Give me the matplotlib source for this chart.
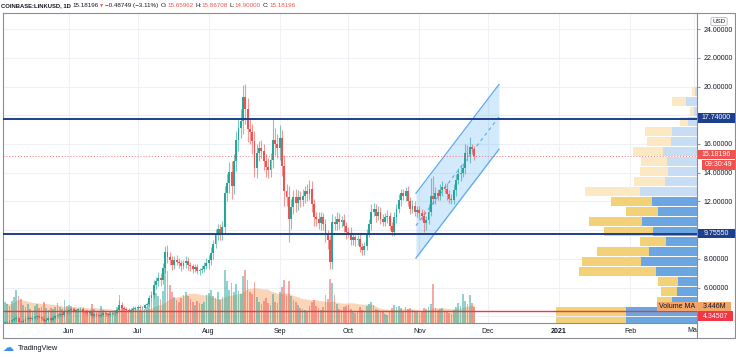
import numpy as np
import pandas as pd
import matplotlib
matplotlib.use("Agg")
import matplotlib.pyplot as plt
import matplotlib.dates as mdates
from matplotlib.patches import Rectangle
from matplotlib.lines import Line2D
from matplotlib.transforms import Bbox, TransformedBbox

plt.rcParams['font.family'] = ['Liberation Sans', 'DejaVu Sans']

# daily closes, May 4 2020 .. Nov 25 2020
may_close = [3.60, 3.62, 3.66, 3.74, 3.80, 3.86, 3.62, 3.60, 3.70, 3.84, 3.92, 3.82, 3.90, 3.95,
             4.00, 3.96, 3.84, 3.68, 3.78, 3.86, 3.74, 3.92, 4.00, 4.12, 4.16, 4.08, 4.38, 4.30]
jun_close = [4.42, 4.50, 4.38, 4.44, 4.50, 4.55, 4.36, 4.30, 4.22, 4.34, 4.06, 4.15, 4.10, 4.04, 4.12,
             4.22, 4.16, 4.10, 4.18, 4.22, 4.26, 4.42, 4.78, 4.62, 4.55, 4.48, 4.40, 4.46, 4.55, 4.60]
jul_close = [4.68, 4.56, 4.62, 4.76, 4.86, 5.28, 5.50, 6.20, 6.45, 6.70, 6.55, 7.40, 8.45, 8.15, 7.95, 7.60,
             7.90, 7.80, 7.70, 7.52, 7.70, 7.88, 7.60, 7.48, 7.30, 7.42, 7.18, 7.25, 7.32, 7.50, 7.72]
aug_close = [7.95, 8.40, 9.05, 9.70, 10.05, 9.80, 10.20, 12.60, 13.30, 14.05, 13.10, 14.80, 16.30, 17.10, 17.60,
             19.30, 18.40, 17.05, 16.80, 16.20, 14.30, 15.40, 15.70, 15.50, 14.80, 14.40, 14.20, 14.90, 16.30, 16.00, 15.70]
sep_close = [16.40, 14.50, 12.70, 12.30, 10.80, 11.60, 12.30, 11.90, 12.30, 12.10, 12.40, 12.70, 12.50, 12.90, 11.80,
             10.90, 10.80, 10.50, 10.90, 10.40, 9.70, 9.30, 7.80, 10.60, 10.40, 10.80, 10.60, 10.70, 10.30, 9.90]
oct_close = [9.80, 9.30, 9.50, 9.30, 9.40, 8.80, 8.60, 8.90, 9.80, 10.40, 11.30, 11.50, 11.00, 11.30, 10.80, 10.60,
             10.90, 11.00, 10.30, 9.90, 10.90, 11.50, 12.10, 12.60, 12.40, 12.70, 12.00, 11.50, 11.70, 11.30, 11.40]
nov_close = [11.20, 11.00, 10.50, 10.70, 11.30, 12.40, 12.20, 12.60, 12.40, 12.80, 13.00, 12.90, 12.50, 12.20, 12.10,
             12.80, 13.50, 13.90, 14.00, 14.30, 15.40, 15.30, 15.80, 15.66945, 15.18196]
first_open = 3.55
last_open = 15.65962

# wick lengths above / below the body
may_wu = [.10, .08, .12, .10, .15, .20, .10, .08, .12, .10, .12, .10, .08, .10, .12, .10, .08, .10, .10, .08, .12, .10, .10, .12, .10, .15, .12, .10]
may_wd = [.08, .10, .08, .10, .08, .10, .25, .12, .08, .10, .08, .12, .10, .08, .10, .10, .12, .15, .08, .10, .12, .08, .10, .08, .10, .12, .08, .15]
jun_wu = [.12, .10, .15, .10, .12, .10, .08, .10, .12, .10, .08, .10, .10, .08, .10, .12, .08, .10, .10, .12, .10, .15, .35, .20, .12, .10, .10, .12, .15, .12]
jun_wd = [.10, .12, .10, .08, .10, .12, .15, .10, .12, .10, .20, .12, .08, .10, .10, .08, .12, .10, .08, .10, .12, .10, .10, .15, .12, .10, .12, .10, .08, .10]
jul_wu = [.12, .10, .10, .12, .15, .20, .25, .35, .30, .40, .35, .30, .45, .50, .30, .25, .30, .35, .25, .20, .25, .30, .25, .20, .20, .25, .20, .15, .25, .30, .35]
jul_wd = [.10, .12, .10, .10, .12, .15, .20, .25, .30, .35, .40, .30, .40, .45, .35, .40, .30, .25, .30, .35, .25, .30, .35, .30, .25, .20, .25, .30, .20, .25, .20]
aug_wu = [.35, .40, .30, .35, .40, .35, .45, .50, .60, .70, .80, .50, .60, .70, .80, .80, .90, .80, .70, .60, .70, .60, .50, .60, .50, .50, .60, .50, 1.50, .80, .70]
aug_wd = [.40, .35, .40, .30, .40, .50, .45, .40, .60, .70, .90, .60, .70, .80, .70, .90, 1.00, .90, .80, .90, .60, .70, .60, .50, .60, .70, .60, .50, .60, .80, .70]
sep_wu = [.90, .60, .70, .50, .80, .60, .50, .60, .50, .40, .50, .40, .50, .60, .50, .40, .40, .50, .40, .30, .40, .30, .40, .50, .40, .50, .40, .30, .40, .30]
sep_wd = [.80, .70, 1.00, .60, 1.60, .70, .50, .60, .50, .50, .40, .50, .50, .40, .50, .60, .50, .40, .50, .40, .50, .60, .50, .50, .40, .40, .50, .40, .40, .50]
oct_wu = [.30, .40, .30, .20, .30, .40, .30, .30, .30, .40, .50, .40, .30, .40, .30, .30, .30, .40, .30, .30, .40, .30, .40, .30, .30, .30, .40, .30, .40, .30, .30]
oct_wd = [.30, .30, .30, .40, .30, .30, .30, .30, .30, .30, .40, .30, .40, .30, .40, .30, .30, .40, .30, .30, .30, .40, .30, .40, .30, .40, .30, .40, .30, .30, .40]
nov_wu = [.30, .30, .40, .30, .50, 1.20, 1.40, .40, .30, .40, .40, .30, .40, .30, .30, .40, .40, .40, .50, .40, .60, .50, .70, .20, .21]
nov_wd = [.40, .30, .60, .50, .30, .30, .40, .40, .30, .30, .40, .30, .40, .30, .30, .30, .40, .30, .50, .30, .40, .50, .60, .40, .28]

# volume, millions
may_vol = [4.2, 3.8, 3.5, 4.5, 5.2, 6.8, 5.5, 4.8, 3.6, 3.2, 3.8, 2.9, 2.5, 3.4, 3.8, 3.0, 3.2, 4.2, 3.0, 2.6, 3.1, 2.8, 3.3, 4.0, 3.2, 2.9, 4.6, 3.5]
jun_vol = [3.6, 3.4, 3.0, 2.6, 2.8, 2.4, 2.9, 2.2, 2.7, 2.5, 3.8, 2.9, 2.3, 2.4, 3.5, 2.6, 2.2, 2.0, 2.4, 2.3, 2.6, 3.2, 5.6, 3.6, 2.8, 2.5, 2.2, 2.4, 3.0, 2.8]
jul_vol = [3.0, 2.6, 2.4, 2.8, 3.2, 4.8, 4.5, 7.2, 6.0, 5.5, 4.8, 6.5, 12.5, 10.5, 7.8, 6.4, 5.2, 4.6, 4.2, 5.0, 5.6, 6.2, 5.4, 4.8, 4.2, 3.6, 4.4, 4.0, 3.8, 4.2, 5.6]
aug_vol = [6.0, 6.8, 5.4, 5.0, 6.2, 4.6, 5.2, 10.8, 8.6, 6.8, 8.2, 6.2, 8.0, 6.6, 5.8, 9.6, 10.8, 8.8, 6.4, 5.8, 8.4, 5.2, 4.2, 3.8, 4.4, 5.0, 4.0, 3.6, 5.8, 4.2, 4.0]
sep_vol = [6.2, 7.4, 8.8, 5.6, 8.6, 5.4, 4.6, 4.2, 3.6, 3.0, 2.8, 2.6, 2.4, 3.4, 4.2, 4.6, 3.4, 3.0, 2.6, 3.2, 5.6, 4.8, 9.0, 8.2, 5.6, 3.8, 2.8, 2.6, 3.2, 3.4]
oct_vol = [3.6, 2.8, 2.2, 2.0, 2.4, 3.2, 2.6, 2.4, 3.4, 3.8, 4.2, 3.6, 2.8, 2.6, 2.4, 2.2, 1.8, 1.6, 2.4, 3.0, 3.6, 3.2, 3.4, 3.0, 2.4, 3.2, 2.8, 3.0, 2.6, 2.4, 2.2]
nov_vol = [2.0, 2.2, 3.0, 2.8, 3.2, 3.8, 8.0, 3.0, 2.6, 2.8, 3.0, 2.4, 2.2, 2.0, 1.9, 2.6, 3.2, 4.0, 3.4, 5.8, 4.4, 3.8, 5.6, 4.0, 3.2]

# visible range volume profile, rows from the bottom up
vp_low = 3.33
vp_step = 0.696
vp_buy = [71, 71, 25, 20, 19, 41, 56, 48, 31, 44, 55, 39, 45, 57, 32, 29, 30, 34, 26, 25, 9, 3, 11, 2]
vp_sell = [70, 70, 15, 16, 20, 77, 59, 52, 26, 49, 53, 32, 41, 55, 31, 28, 26, 30, 24, 27, 8, 4, 14, 3]
vp_value_rows = 13

# drawings
levels = [17.74, 9.7555]
red_level = 4.34507
channel_dates = ['2020-10-30 12:00', '2020-12-05 18:00']
channel_top = [12.57, 20.14]
channel_bot = [8.06, 15.63]

month_ticks = ['2020-06-01', '2020-07-01', '2020-08-01', '2020-09-01', '2020-10-01',
               '2020-11-01', '2020-12-01', '2021-01-01', '2021-02-01']
month_labels = ['Jun', 'Jul', 'Aug', 'Sep', 'Oct', 'Nov', 'Dec', '2021', 'Feb']
price_ticks = [4, 6, 8, 10, 12, 14, 16, 18, 20, 22, 24]
hidden_ticks = [4, 10, 18]   # covered by the line tags on the price scale

closes = may_close + jun_close + jul_close + aug_close + sep_close + oct_close + nov_close
wu = may_wu + jun_wu + jul_wu + aug_wu + sep_wu + oct_wu + nov_wu
wd = may_wd + jun_wd + jul_wd + aug_wd + sep_wd + oct_wd + nov_wd
vols = may_vol + jun_vol + jul_vol + aug_vol + sep_vol + oct_vol + nov_vol

dates = pd.date_range('2020-05-04', periods=len(closes), freq='D')
opens = [first_open] + closes[:-1]
opens[-1] = last_open
o = np.array(opens)
c = np.array(closes)
highs = np.maximum(o, c) + np.array(wu)
lows = np.minimum(o, c) - np.array(wd)
up = c >= o
vol_ma = pd.Series(vols).rolling(20, min_periods=1).mean()

W, H = 736, 357


def fx(x):
    return x / W


def fy(y):
    return 1 - y / H


fig = plt.figure(figsize=(W / 100, H / 100), dpi=100)
fig.patch.set_facecolor('white')
pos = [fx(3), fy(323), 694 / W, 310 / H]

ppd = 2.29
jun1 = mdates.date2num(pd.Timestamp('2020-06-01'))
xmin = jun1 + (3 - 69) / ppd
xmax = jun1 + (697 - 69) / ppd
ymin = (373.9 - 323) / 14.37
ymax = (373.9 - 13) / 14.37

ax_bg = fig.add_axes(pos, zorder=0)
ax_vol = fig.add_axes(pos, sharex=ax_bg, zorder=1)
ax_vp = fig.add_axes(pos, sharey=ax_bg, zorder=2)
ax = fig.add_axes(pos, sharex=ax_bg, sharey=ax_bg, zorder=3)

ax_bg.set_xlim(xmin, xmax)
ax_bg.set_ylim(ymin, ymax)
ax.set_xticks([mdates.date2num(pd.Timestamp(m)) for m in month_ticks] +
              [mdates.date2num(pd.Timestamp('2021-03-01'))])
ax.set_xticklabels(month_labels + [''])
ax.set_yticks(price_ticks)
ax.set_yticklabels(['' if p in hidden_ticks else '%.5f' % p for p in price_ticks])
ax_bg.grid(True, color='#eef0f5', lw=0.8)
ax_bg.tick_params(left=False, bottom=False, labelleft=False, labelbottom=False)
for s in ax_bg.spines.values():
    s.set_visible(False)

# volume
ax_vol.set_axis_off()
ax_vol.set_ylim(0, 63)
ax_vol.fill_between(dates, 0, vol_ma, color='#f6a261', alpha=0.45, lw=0)
ax_vol.bar(dates, vols, width=0.75, color=np.where(up, '#26a69a', '#ef5350'), alpha=0.5)

# volume profile
ax_vp.set_axis_off()
ax_vp.set_xlim(694, 0)
rows = vp_low + vp_step * np.arange(len(vp_buy)) + vp_step / 2
buy_col = ['#6ba6e1' if i < vp_value_rows else '#c7ddf4' for i in range(len(vp_buy))]
sell_col = ['#f3d178' if i < vp_value_rows else '#fce9c4' for i in range(len(vp_buy))]
ax_vp.barh(rows, vp_buy, height=vp_step * 0.9, left=0, color=buy_col, lw=0)
ax_vp.barh(rows, vp_sell, height=vp_step * 0.9, left=vp_buy, color=sell_col, lw=0)

# main pane
ax.patch.set_visible(False)
cd = mdates.date2num(pd.to_datetime(channel_dates))
ax.fill_between(cd, channel_bot, channel_top, color='#2196f3', alpha=0.2, lw=0, zorder=1)
ax.plot(cd, channel_top, color='#5aa8f2', lw=0.9, zorder=1.5)
ax.plot(cd, channel_bot, color='#5aa8f2', lw=0.9, zorder=1.5)
ax.plot(cd, [(a + b) / 2 for a, b in zip(channel_top, channel_bot)], color='#5aa8f2',
        lw=0.8, ls=(0, (3, 3)), zorder=1.5)

col = np.where(up, '#26a69a', '#ef5350')
ax.vlines(dates, lows, highs, colors=col, lw=0.8, alpha=0.6, zorder=3)
ax.bar(dates, np.maximum(np.abs(c - o), 0.04), bottom=np.minimum(o, c), width=0.82,
       color=col, lw=0, zorder=4)

for lv in levels:
    ax.axhline(lv, color='#1e3f8c', lw=1.4, zorder=6)
ax.axhline(closes[-1], color='#ef5350', lw=0.7, ls=(0, (1, 2)), alpha=0.8, zorder=5)
ax.axhline(red_level, color='#f23645', lw=1.0, zorder=6)

ax.yaxis.tick_right()
ax.tick_params(axis='y', labelsize=5, colors='#131722', length=2.5, pad=2)
ax.tick_params(axis='y', color='#9598a1')
ax.tick_params(axis='x', labelsize=5, colors='#131722', length=0, pad=3.5)
for lab in ax.get_xticklabels():
    if lab.get_text() == '2021':
        lab.set_fontweight('bold')
for s in ax.spines.values():
    s.set_color('#8a8d96')
    s.set_linewidth(0.8)

t = fig.text(fx(694), fy(330.5), 'Mar', ha='center', va='center', fontsize=5, color='#131722')
t.set_clip_box(TransformedBbox(Bbox([[fx(3), fy(338)], [fx(697), fy(323)]]), fig.transFigure))
t.set_clip_on(True)

# frame around time and price scales
for (x0, y0, x1, y1) in [(3, 323, 3, 338), (3, 338, 735, 338), (697, 323, 697, 338),
                         (697, 13, 735, 13), (735, 13, 735, 338)]:
    fig.add_artist(Line2D([fx(x0), fx(x1)], [fy(y0), fy(y1)], color='#8a8d96', lw=0.8,
                          transform=fig.transFigure))


def tag(x0, x1, y0, y1, text, fc, tc='white'):
    fig.add_artist(Rectangle((fx(x0), fy(y1)), (x1 - x0) / W, (y1 - y0) / H,
                             transform=fig.transFigure, facecolor=fc, edgecolor='none', zorder=10))
    fig.text(fx((x0 + x1) / 2), fy((y0 + y1) / 2), text, color=tc, fontsize=5,
             ha='center', va='center', zorder=11)


tag(698, 735, 113, 123, '17.74000', '#1e3f8c')
tag(698, 735, 150, 159, '15.18196', '#ef5350')
tag(702, 735, 160, 170, '09:30:49', '#ef5350')
tag(698, 735, 229, 238, '9.75550', '#1e3f8c')
tag(657, 697, 302, 311, 'Volume MA', '#f2a469', '#131722')
tag(697, 731, 302, 311, '3.446M', '#f2a469', '#131722')
tag(698, 733, 311, 321, '4.34507', '#f23645')

# USD box
fig.text(fx(719), fy(21.5), 'USD', fontsize=4.5, color='#131722', ha='center', va='center',
         bbox=dict(boxstyle='round,pad=0.25', fc='white', ec='#b2b5be', lw=0.6), zorder=12)

# header
hy = fy(5.5)
hs = 4.5
fig.text(fx(1), hy, 'COINBASE:LINKUSD, 1D', fontsize=4.2, fontweight='bold', color='#131722', va='center')
fig.text(fx(72), hy, '15.18196', fontsize=hs, color='#131722', va='center')
fig.text(fx(98.5), hy, '▼', fontsize=3.8, color='#ef5350', va='center')
fig.text(fx(105), hy, '−0.48749 (−3.11%)', fontsize=hs, color='#131722', va='center')
for lx, lab, vx, val in [(161, 'O:', 167, '15.65962'), (195, 'H:', 201, '15.86708'),
                         (229.5, 'L:', 234.5, '14.90000'), (263, 'C:', 269, '15.18196')]:
    fig.text(fx(lx), hy, lab, fontsize=hs, color='#131722', va='center')
    fig.text(fx(vx), hy, val, fontsize=hs, color='#ef5350', va='center')

# logo
fig.text(fx(2), fy(348), '☁', fontsize=8, color='#3e8ee8', va='center', family='DejaVu Sans')
fig.text(fx(18), fy(348), 'TradingView', fontsize=5.3, color='#131722', va='center')

fig.savefig('out.png', dpi=100, facecolor='white')
